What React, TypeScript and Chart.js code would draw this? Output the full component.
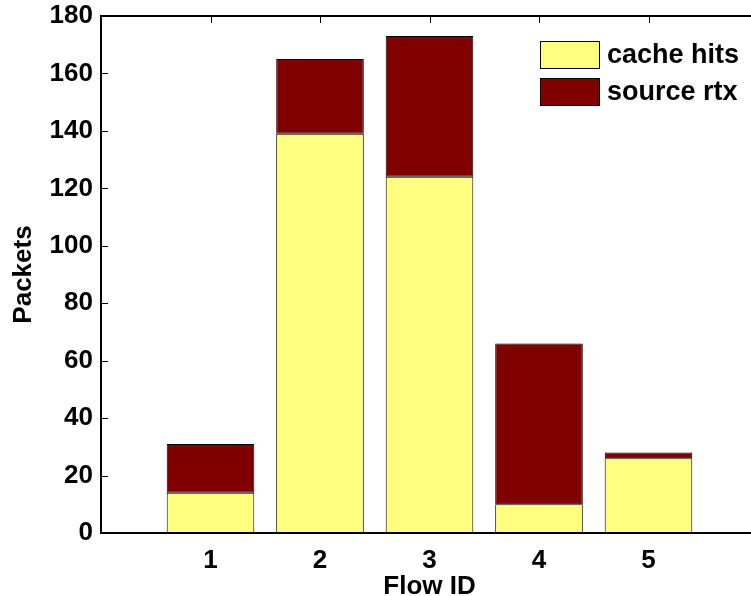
import React, { useEffect, useRef } from "react";
import { Chart, registerables } from "chart.js";

Chart.register(...registerables);

const flowIds = [1, 2, 3, 4, 5];
const cacheHits = [14, 139, 124, 10, 26];
const sourceRtx = [17, 26, 49, 56, 2];
const yTicks = [0, 20, 40, 60, 80, 100, 120, 140, 160, 180];
const seriesLabels = ["cache hits", "source rtx"];
const seriesColors = ["#ffff80", "#800000"];

const FONT = "'Liberation Sans', Arial, Helvetica, sans-serif";

const framePlugin = {
  id: "matlabFrame",
  beforeDatasetsDraw(chart: any) {
    const { ctx, chartArea } = chart;
    const { left, right, top, bottom } = chartArea;
    const xs = chart.scales.x;
    const ys = chart.scales.y;
    const tl = 7;
    ctx.save();
    ctx.strokeStyle = "#000";
    ctx.lineWidth = 1;
    ctx.beginPath();
    flowIds.forEach((v) => {
      const px = Math.round(xs.getPixelForValue(v)) + 0.5;
      ctx.moveTo(px, top);
      ctx.lineTo(px, top + tl);
      ctx.moveTo(px, bottom);
      ctx.lineTo(px, bottom - tl);
    });
    yTicks.forEach((v) => {
      const py = Math.round(ys.getPixelForValue(v)) + 0.5;
      ctx.moveTo(left, py);
      ctx.lineTo(left + tl, py);
      ctx.moveTo(right, py);
      ctx.lineTo(right - tl, py);
    });
    ctx.stroke();
    ctx.restore();
  },
  afterDatasetsDraw(chart: any) {
    const { ctx, chartArea } = chart;
    const { left, right, top, bottom } = chartArea;
    ctx.save();
    ctx.strokeStyle = "#000";
    ctx.lineWidth = 2;
    ctx.strokeRect(left, top, right - left, bottom - top);
    ctx.restore();
  },
  afterDraw(chart: any) {
    const { ctx, chartArea } = chart;
    const boxW = 60;
    const boxH = 28;
    const x0 = chartArea.right - 218;
    let y0 = chartArea.top + 25;
    ctx.save();
    ctx.font = `bold 27px ${FONT}`;
    ctx.textBaseline = "middle";
    ctx.textAlign = "left";
    chart.data.datasets.forEach((ds: any) => {
      ctx.fillStyle = ds.backgroundColor;
      ctx.fillRect(x0, y0, boxW, boxH);
      ctx.strokeStyle = "#000";
      ctx.lineWidth = 1;
      ctx.strokeRect(x0 + 0.5, y0 + 0.5, boxW - 1, boxH - 1);
      ctx.fillStyle = "#000";
      ctx.fillText(ds.label, x0 + boxW + 7, y0 + boxH / 2 + 1);
      y0 += boxH + 9;
    });
    ctx.restore();
  },
};

export default function App() {
  const canvasRef = useRef<HTMLCanvasElement | null>(null);

  useEffect(() => {
    const canvas = canvasRef.current;
    if (!canvas) return;
    const tickFont = { family: FONT, size: 26, weight: "bold" as const };
    const chart = new Chart(canvas, {
      type: "bar",
      data: {
        datasets: [
          {
            label: seriesLabels[0],
            data: cacheHits.map((v, i) => ({ x: flowIds[i], y: v })),
            backgroundColor: seriesColors[0],
            borderColor: "#000",
            borderWidth: 1,
            borderSkipped: false,
            barPercentage: 0.8,
            categoryPercentage: 1,
          },
          {
            label: seriesLabels[1],
            data: sourceRtx.map((v, i) => ({ x: flowIds[i], y: v })),
            backgroundColor: seriesColors[1],
            borderColor: "#000",
            borderWidth: 1,
            borderSkipped: false,
            barPercentage: 0.8,
            categoryPercentage: 1,
          },
        ],
      },
      options: {
        animation: false,
        responsive: false,
        devicePixelRatio: 1,
        layout: { padding: { left: 0, right: 12, top: 16, bottom: 0 } },
        plugins: {
          legend: { display: false },
          tooltip: { enabled: false },
        },
        scales: {
          x: {
            type: "linear",
            stacked: true,
            offset: false,
            min: 0,
            max: 6,
            afterBuildTicks: (s: any) => {
              s.ticks = flowIds.map((v) => ({ value: v }));
            },
            afterFit: (s: any) => {
              s.height = 63;
              s.paddingLeft = 0;
              s.paddingRight = 0;
            },
            grid: { display: false, drawTicks: false },
            border: { display: false },
            ticks: { font: tickFont, color: "#000", padding: 12, maxRotation: 0 },
            title: {
              display: true,
              text: "Flow ID",
              font: { ...tickFont, lineHeight: 0.7 },
              color: "#000",
              padding: { top: 0, bottom: 0 },
            },
          },
          y: {
            type: "linear",
            stacked: true,
            min: 0,
            max: 180,
            afterBuildTicks: (s: any) => {
              s.ticks = yTicks.map((v) => ({ value: v }));
            },
            afterFit: (s: any) => {
              s.width = 101;
              s.paddingTop = 0;
              s.paddingBottom = 0;
            },
            grid: { display: false, drawTicks: false },
            border: { display: false },
            ticks: { font: tickFont, color: "#000", padding: 8 },
            title: {
              display: true,
              text: "Packets",
              font: tickFont,
              color: "#000",
              padding: { top: 8, bottom: 0 },
            },
          },
        },
      },
      plugins: [framePlugin],
    });
    return () => chart.destroy();
  }, []);

  return (
    <div
      style={{
        position: "fixed",
        left: 0,
        top: 0,
        width: 751,
        height: 596,
        overflow: "hidden",
        background: "#fff",
      }}
    >
      <canvas ref={canvasRef} width={770} height={596} style={{ display: "block" }} />
    </div>
  );
}
